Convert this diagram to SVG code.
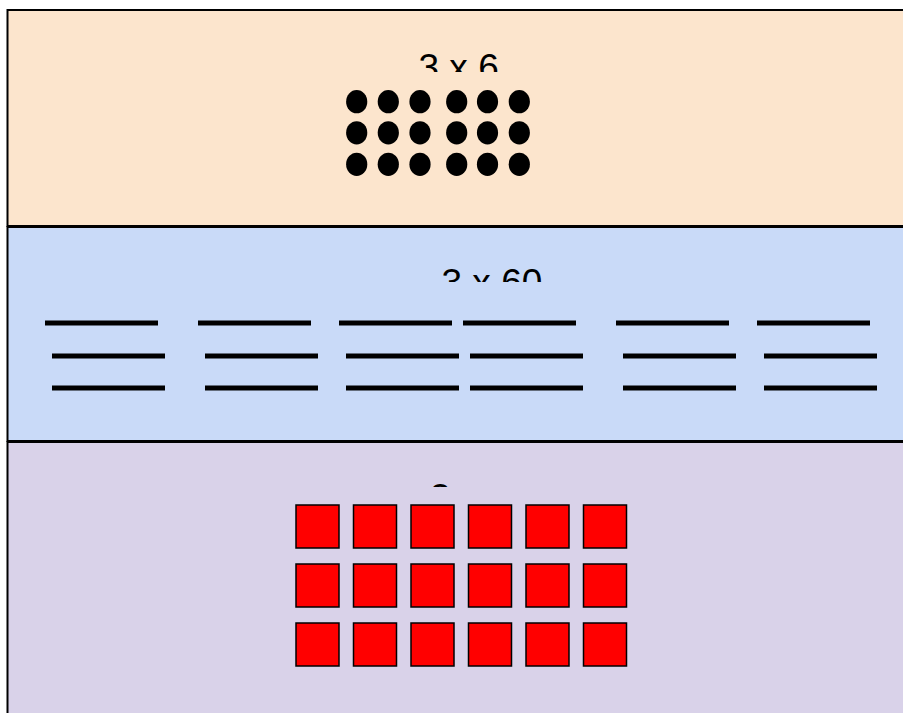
<svg xmlns="http://www.w3.org/2000/svg" width="903" height="713" viewBox="0 0 903 713">
<style>
.panel{stroke:#000;stroke-width:2}
.lbl{font-family:"Liberation Sans",Arial,sans-serif;font-size:37px;fill:#000}
.dot{fill:#000}
.bar{stroke:#000;stroke-width:5}
.sq{fill:#ff0000;stroke:#000;stroke-width:1.5}
</style>
<defs>
<clipPath id="c1"><rect x="380" y="30" width="160" height="42"/></clipPath>
<clipPath id="c2"><rect x="400" y="250" width="180" height="32"/></clipPath>
<clipPath id="c3"><rect x="425" y="470" width="27" height="17"/></clipPath>
</defs>
<g id="panel-ones">
<rect class="panel" x="7.5" y="10" width="1000" height="216" fill="#fce5cd"/>
<text class="lbl" x="418.5" y="79.5" clip-path="url(#c1)">3 x 6</text>
<g>
<ellipse class="dot" cx="356.7" cy="101.7" rx="10.6" ry="11.6"/>
<ellipse class="dot" cx="388.3" cy="101.7" rx="10.6" ry="11.6"/>
<ellipse class="dot" cx="420" cy="101.7" rx="10.6" ry="11.6"/>
<ellipse class="dot" cx="456.7" cy="101.7" rx="10.6" ry="11.6"/>
<ellipse class="dot" cx="487.5" cy="101.7" rx="10.6" ry="11.6"/>
<ellipse class="dot" cx="519.3" cy="101.7" rx="10.6" ry="11.6"/>
<ellipse class="dot" cx="356.7" cy="132.8" rx="10.6" ry="11.6"/>
<ellipse class="dot" cx="388.3" cy="132.8" rx="10.6" ry="11.6"/>
<ellipse class="dot" cx="420" cy="132.8" rx="10.6" ry="11.6"/>
<ellipse class="dot" cx="456.7" cy="132.8" rx="10.6" ry="11.6"/>
<ellipse class="dot" cx="487.5" cy="132.8" rx="10.6" ry="11.6"/>
<ellipse class="dot" cx="519.3" cy="132.8" rx="10.6" ry="11.6"/>
<ellipse class="dot" cx="356.7" cy="164.3" rx="10.6" ry="11.6"/>
<ellipse class="dot" cx="388.3" cy="164.3" rx="10.6" ry="11.6"/>
<ellipse class="dot" cx="420" cy="164.3" rx="10.6" ry="11.6"/>
<ellipse class="dot" cx="456.7" cy="164.3" rx="10.6" ry="11.6"/>
<ellipse class="dot" cx="487.5" cy="164.3" rx="10.6" ry="11.6"/>
<ellipse class="dot" cx="519.3" cy="164.3" rx="10.6" ry="11.6"/>
</g>
</g>
<g id="panel-tens">
<rect class="panel" x="7.5" y="227" width="1000" height="214" fill="#c9daf8"/>
<text class="lbl" x="441.5" y="294.5" clip-path="url(#c2)">3 x 60</text>
<g>
<line class="bar" x1="45" y1="323" x2="158" y2="323"/>
<line class="bar" x1="52" y1="356" x2="165" y2="356"/>
<line class="bar" x1="52" y1="388" x2="165" y2="388"/>
<line class="bar" x1="198" y1="323" x2="311" y2="323"/>
<line class="bar" x1="205" y1="356" x2="318" y2="356"/>
<line class="bar" x1="205" y1="388" x2="318" y2="388"/>
<line class="bar" x1="339" y1="323" x2="452" y2="323"/>
<line class="bar" x1="346" y1="356" x2="459" y2="356"/>
<line class="bar" x1="346" y1="388" x2="459" y2="388"/>
<line class="bar" x1="463" y1="323" x2="576" y2="323"/>
<line class="bar" x1="470" y1="356" x2="583" y2="356"/>
<line class="bar" x1="470" y1="388" x2="583" y2="388"/>
<line class="bar" x1="616" y1="323" x2="729" y2="323"/>
<line class="bar" x1="623" y1="356" x2="736" y2="356"/>
<line class="bar" x1="623" y1="388" x2="736" y2="388"/>
<line class="bar" x1="757" y1="323" x2="870" y2="323"/>
<line class="bar" x1="764" y1="356" x2="877" y2="356"/>
<line class="bar" x1="764" y1="388" x2="877" y2="388"/>
</g>
</g>
<g id="panel-hundreds">
<rect class="panel" x="7.5" y="442" width="1000" height="400" fill="#d9d2e9"/>
<text class="lbl" x="430" y="509.5" clip-path="url(#c3)">3 x 600</text>
<g>
<rect class="sq" x="296" y="505" width="43" height="43"/>
<rect class="sq" x="353.5" y="505" width="43" height="43"/>
<rect class="sq" x="411" y="505" width="43" height="43"/>
<rect class="sq" x="468.5" y="505" width="43" height="43"/>
<rect class="sq" x="526" y="505" width="43" height="43"/>
<rect class="sq" x="583.5" y="505" width="43" height="43"/>
<rect class="sq" x="296" y="564" width="43" height="43"/>
<rect class="sq" x="353.5" y="564" width="43" height="43"/>
<rect class="sq" x="411" y="564" width="43" height="43"/>
<rect class="sq" x="468.5" y="564" width="43" height="43"/>
<rect class="sq" x="526" y="564" width="43" height="43"/>
<rect class="sq" x="583.5" y="564" width="43" height="43"/>
<rect class="sq" x="296" y="623" width="43" height="43"/>
<rect class="sq" x="353.5" y="623" width="43" height="43"/>
<rect class="sq" x="411" y="623" width="43" height="43"/>
<rect class="sq" x="468.5" y="623" width="43" height="43"/>
<rect class="sq" x="526" y="623" width="43" height="43"/>
<rect class="sq" x="583.5" y="623" width="43" height="43"/>
</g>
</g>
<g id="connectors"/>
</svg>
